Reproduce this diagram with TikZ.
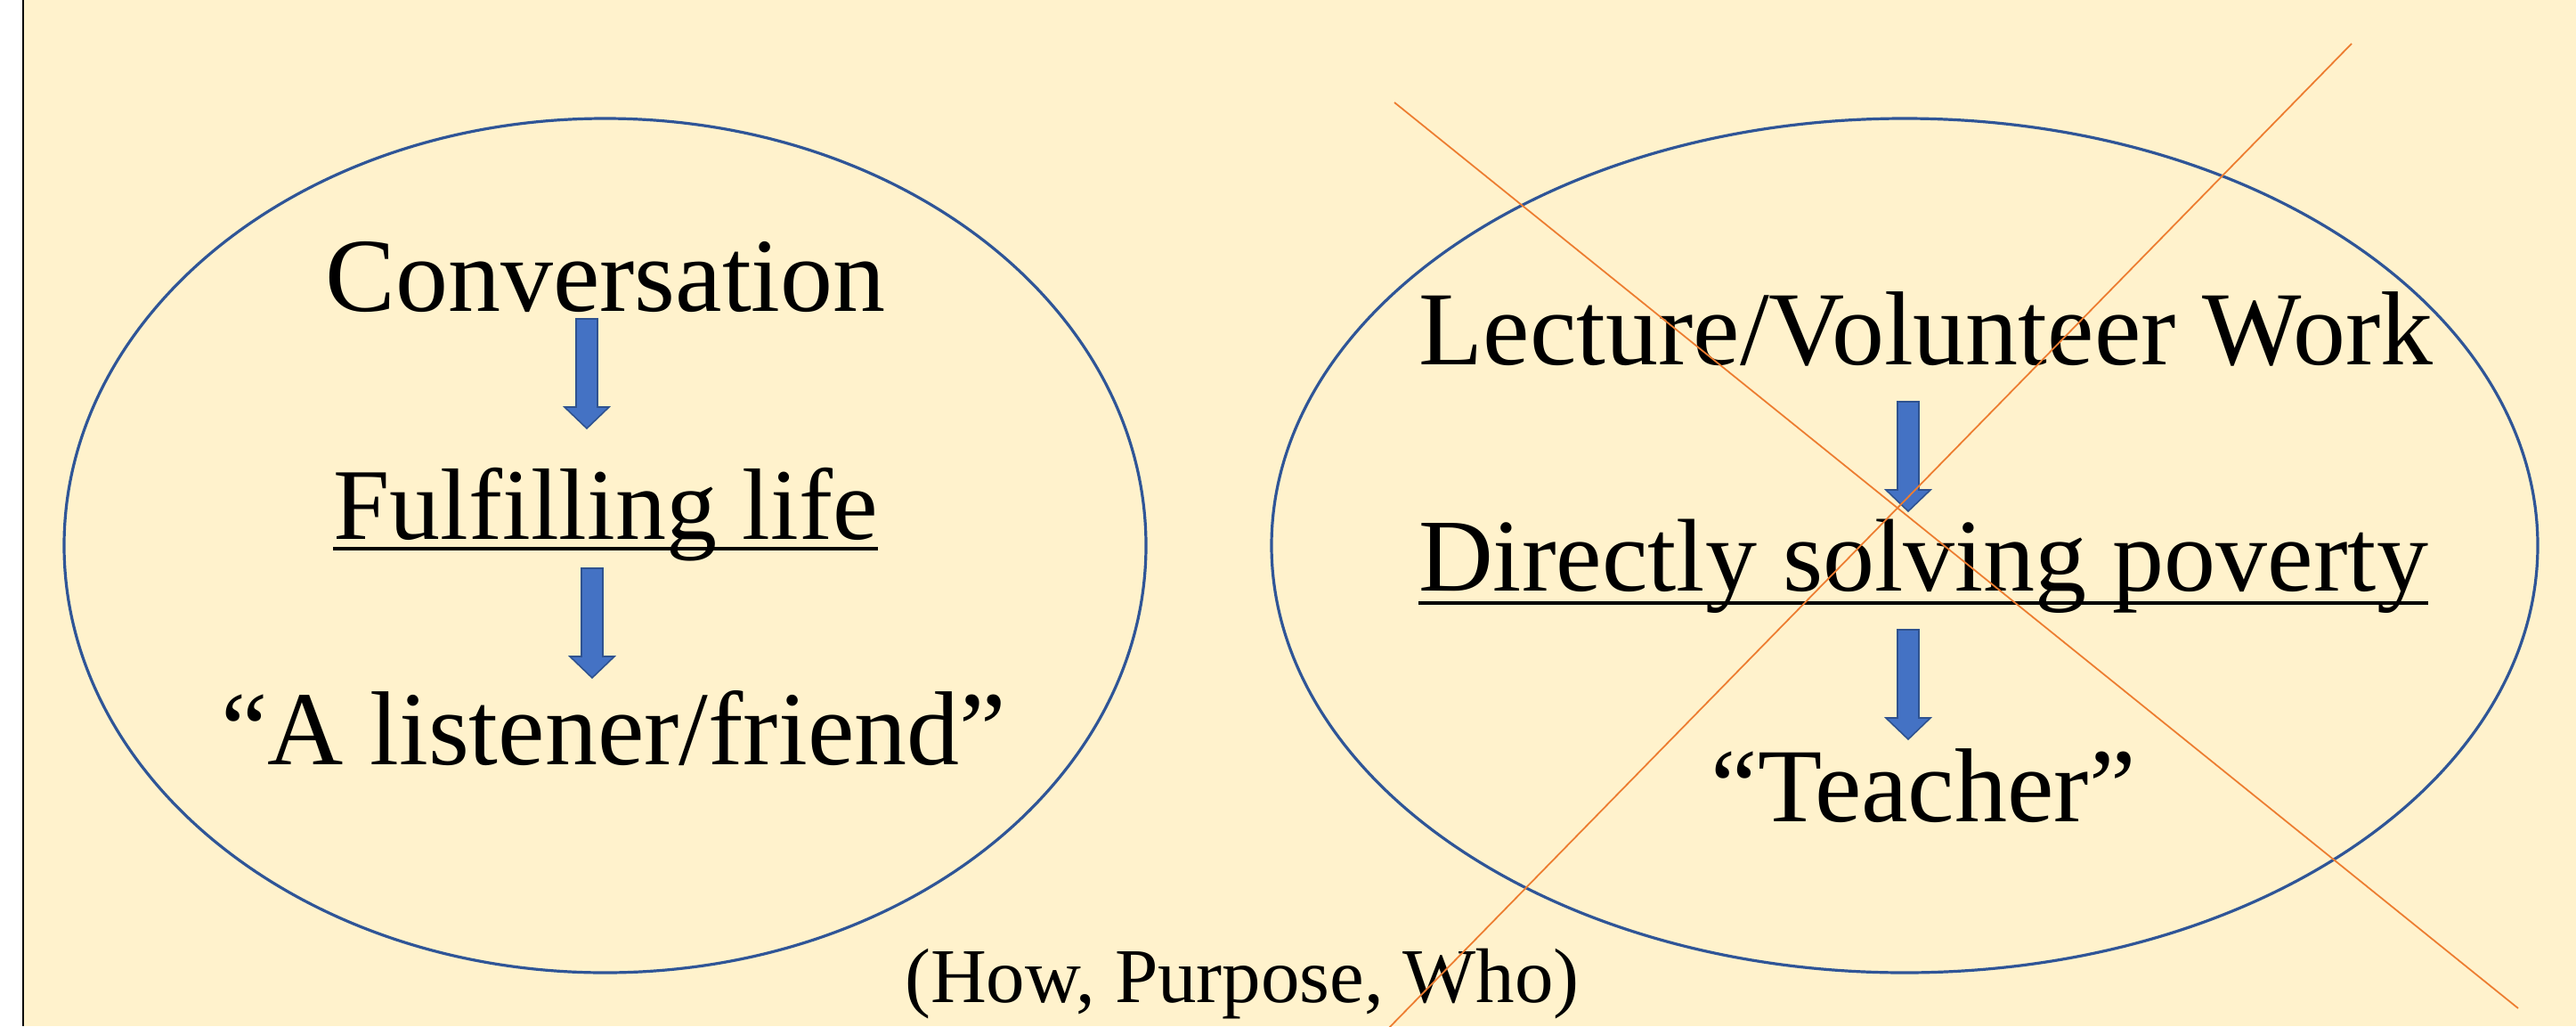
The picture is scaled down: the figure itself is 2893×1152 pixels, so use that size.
\documentclass[tikz,border=0pt]{standalone}
\usepackage{fontspec}
\setmainfont{Liberation Serif}
\definecolor{cream}{HTML}{FFF2CC}
\definecolor{ellblue}{HTML}{2F5597}
\definecolor{arrfill}{HTML}{4472C4}
\definecolor{arrline}{HTML}{2F528F}
\definecolor{crossorange}{HTML}{ED7D31}
\tikzset{
  maintext/.style={inner sep=0pt, anchor=base, font=\fontsize{59}{70}\selectfont},
  smalltext/.style={inner sep=0pt, anchor=base, font=\fontsize{43.5}{52}\selectfont},
  ellstyle/.style={draw=ellblue, line width=1.6pt},
  crossline/.style={draw=crossorange, line width=0.9pt},
  arrowstyle/.style={fill=arrfill, draw=arrline, line width=0.8pt, line join=miter},
  blockarrow/.pic={\path[arrowstyle] (-12,0) -- (12,0) -- (12,99) -- (25,99) -- (0,123) -- (-25,99) -- (-12,99) -- cycle;},
  uline/.style={line width=2.2pt}
}
\begin{document}
\begin{tikzpicture}[x=0.5pt,y=-0.5pt]
\useasboundingbox (0,0) rectangle (2893,1152);
\fill[white] (0,0) rectangle (2893,1152);
\fill[cream] (26,0) rectangle (2893,1152);
\draw[line width=1pt] (26,0) -- (26,1152);
% ellipses
\draw[ellstyle] (679.5,612.5) ellipse [x radius=303.75pt, y radius=239.75pt];
\draw[ellstyle] (2139,612.5) ellipse [x radius=355.5pt, y radius=239.75pt];
% left texts
\node[maintext] (conv) at (680,349) {Conversation};
\node[maintext, font=\fontsize{57}{68}\selectfont] (full) at (680,605) {Fulfilling life};
\draw[uline] ([yshift=-5.5pt]full.base west) -- ([yshift=-5.5pt]full.base east);
\node[maintext] (list) at (689,858) {“A listener/friend”};
% right texts
\node[maintext] (lect) at (2163,409) {Lecture/Volunteer Work};
\node[maintext, font=\fontsize{58}{69}\selectfont] (dir) at (2160,663) {Directly solving poverty};
\draw[uline] ([yshift=-7pt]dir.base west) -- ([yshift=-7pt]dir.base east);
\node[maintext] (teach) at (2160,922) {“Teacher”};
% arrows
\pic at (659,358) {blockarrow};
\pic at (665,638) {blockarrow};
\pic at (2143,451) {blockarrow};
\pic at (2143,707) {blockarrow};
% bottom label
\node[smalltext] (hpw) at (1395,1125) {(How, Purpose, Who)};
% cross
\begin{scope}
\clip (0,0) rectangle (2893,1152);
\draw[crossline] (1566,115) -- (2828,1132);
\draw[crossline] (2641,49) -- (1554,1160);
\end{scope}
\end{tikzpicture}
\end{document}
